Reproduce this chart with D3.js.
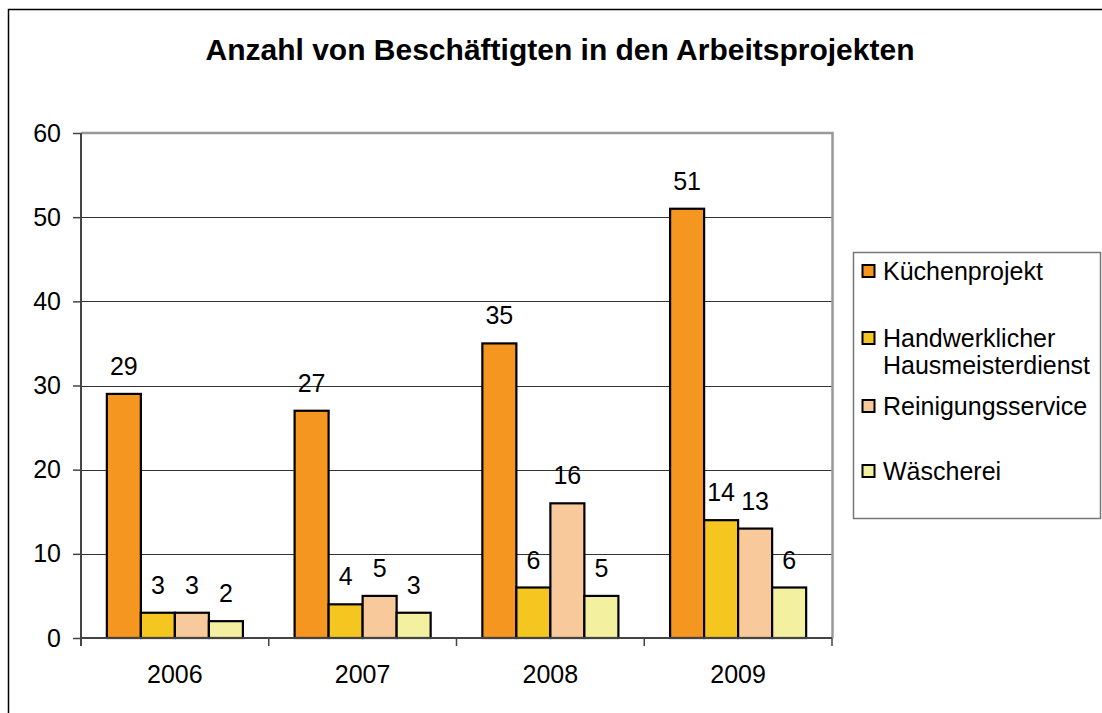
<!DOCTYPE html>
<html>
<head>
<meta charset="utf-8">
<script src="https://cdn.jsdelivr.net/npm/d3@7"></script>
<style>
  body { margin: 0; background: #fff; overflow: hidden; }
  svg { display: block; font-family: "Liberation Sans", Arial, sans-serif; }
</style>
</head>
<body>
<div id="chart_area"></div>
<script>
var years = ["2006", "2007", "2008", "2009"];
var seriesNames = ["Küchenprojekt", "Handwerklicher Hausmeisterdienst", "Reinigungsservice", "Wäscherei"];
var kuechen = [29, 27, 35, 51];
var handwerk = [3, 4, 6, 14];
var reinigung = [3, 5, 16, 13];
var waescherei = [2, 3, 5, 6];
var yTicks = [0, 10, 20, 30, 40, 50, 60];
var colors = ["#f4961f", "#f5c520", "#f8c99a", "#f3f19f"];

function drawChart() {
    var width = 1102, height = 713;
    var plot = { left: 81, top: 133, right: 832, bottom: 638 };
    var values = [kuechen, handwerk, reinigung, waescherei];
    var font = "Liberation Sans, Arial, sans-serif";

    var svg = d3.select("#chart_area")
        .append("svg")
        .attr("width", width)
        .attr("height", height);

    // outer frame, only left and top are inside the picture
    svg.append("path")
        .attr("d", "M8.5," + height + "V9.5H" + width)
        .attr("fill", "none")
        .attr("stroke", "#000")
        .attr("stroke-width", 1.5);

    svg.append("text")
        .attr("x", 560).attr("y", 60)
        .attr("text-anchor", "middle")
        .attr("font-size", "30px")
        .attr("font-weight", "bold")
        .text("Anzahl von Beschäftigten in den Arbeitsprojekten");

    var x = d3.scaleBand()
        .domain(years)
        .range([plot.left, plot.right]);

    var x1 = d3.scaleBand()
        .domain(d3.range(seriesNames.length))
        .range([0, x.bandwidth()])
        .paddingOuter(0.76);

    var y = d3.scaleLinear()
        .domain([0, 60])
        .range([plot.bottom, plot.top]);

    // gridlines
    svg.append("g")
        .selectAll("line")
        .data(yTicks.slice(1, -1))
        .enter()
        .append("line")
        .attr("x1", plot.left).attr("x2", plot.right)
        .attr("y1", function (d) { return Math.round(y(d)) + 0.5; })
        .attr("y2", function (d) { return Math.round(y(d)) + 0.5; })
        .attr("stroke", "#333")
        .attr("stroke-width", 1);

    // plot border top and right
    svg.append("path")
        .attr("d", "M" + plot.left + "," + plot.top + "H" + (plot.right + 0.5) + "V" + plot.bottom)
        .attr("fill", "none")
        .attr("stroke", "#999")
        .attr("stroke-width", 2.5);

    var group = svg.selectAll(".year")
        .data(years)
        .enter()
        .append("g")
        .attr("class", "year")
        .attr("transform", function (d) { return "translate(" + x(d) + ",0)"; });

    function cells(d, i) {
        return values.map(function (v, s) { return { s: s, v: v[i] }; });
    }

    group.selectAll("rect")
        .data(cells)
        .enter()
        .append("rect")
        .attr("x", function (d) { return x1(d.s); })
        .attr("y", function (d) { return y(d.v); })
        .attr("width", x1.bandwidth())
        .attr("height", function (d) { return y(0) - y(d.v); })
        .attr("fill", function (d) { return colors[d.s]; })
        .attr("stroke", "#000")
        .attr("stroke-width", 2.2);

    group.selectAll("text")
        .data(cells)
        .enter()
        .append("text")
        .attr("x", function (d) { return x1(d.s) + x1.bandwidth() / 2; })
        .attr("y", function (d) { return y(d.v) - 19; })
        .attr("text-anchor", "middle")
        .attr("font-size", "25px")
        .attr("fill", "#000")
        .text(function (d) { return d.v; });

    // y axis
    var yAxis = svg.append("g")
        .attr("transform", "translate(" + plot.left + ",0)")
        .call(d3.axisLeft(y).tickValues(yTicks).tickSize(8).tickPadding(12));
    yAxis.select(".domain").attr("stroke", "#444").attr("stroke-width", 2)
        .attr("d", "M0," + plot.top + "V" + (plot.bottom + 8));
    yAxis.selectAll(".tick line").attr("stroke", "#444").attr("stroke-width", 1.5);
    yAxis.selectAll(".tick text")
        .attr("font-size", "25px").attr("font-family", font).attr("fill", "#000");

    // x axis
    var xAxis = svg.append("g")
        .attr("transform", "translate(0," + plot.bottom + ")")
        .call(d3.axisBottom(x).tickSize(0).tickPadding(27));
    xAxis.select(".domain").attr("stroke", "#444").attr("stroke-width", 2)
        .attr("d", "M" + plot.left + ",0H" + plot.right);
    xAxis.selectAll(".tick text")
        .attr("font-size", "25px").attr("font-family", font).attr("fill", "#000");
    xAxis.selectAll(".sep")
        .data(years.slice(1).concat(["end"]))
        .enter()
        .append("line")
        .attr("x1", function (d) { return d === "end" ? plot.right : x(d); })
        .attr("x2", function (d) { return d === "end" ? plot.right : x(d); })
        .attr("y1", 0).attr("y2", 8)
        .attr("stroke", "#444")
        .attr("stroke-width", 1.5);

    // legend
    var legend = svg.append("g");
    legend.append("rect")
        .attr("x", 853.5).attr("y", 252.5)
        .attr("width", 247).attr("height", 266)
        .attr("fill", "#fff")
        .attr("stroke", "#777")
        .attr("stroke-width", 1.5);

    var legendY = [280, 347, 415, 480];
    var item = legend.selectAll(".item")
        .data(seriesNames)
        .enter()
        .append("g")
        .attr("transform", function (d, i) { return "translate(862," + legendY[i] + ")"; });

    item.append("rect")
        .attr("x", 0.5).attr("y", -15)
        .attr("width", 12).attr("height", 12)
        .attr("fill", function (d, i) { return colors[i]; })
        .attr("stroke", "#000")
        .attr("stroke-width", 2);

    item.append("text")
        .attr("font-size", "25px")
        .each(function (d) {
            var parts = d === "Handwerklicher Hausmeisterdienst" ? ["Handwerklicher", "Hausmeisterdienst"] : [d];
            var t = d3.select(this);
            parts.forEach(function (p, k) {
                t.append("tspan").attr("x", 21).attr("dy", k === 0 ? 0 : 27).text(p);
            });
        });
}

drawChart();
</script>
</body>
</html>
